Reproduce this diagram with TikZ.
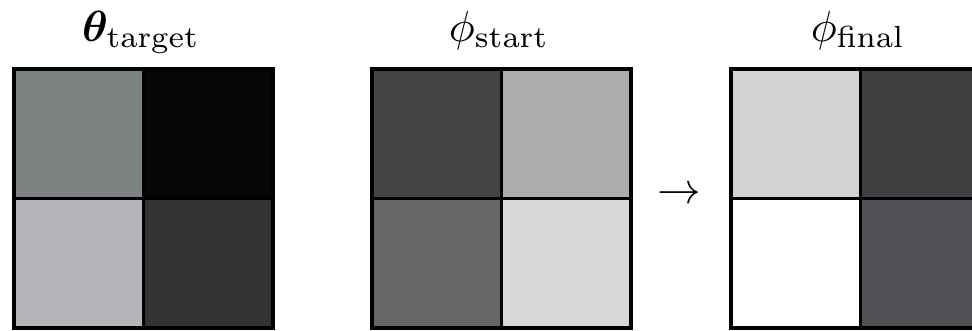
\documentclass[tikz,border=0pt]{standalone}
\usepackage{amsmath,bm}
\begin{document}
\begin{tikzpicture}[x=0.2294pt,y=-0.2294pt,
  cell/.style={draw=black,line width=0.9pt,minimum size=129.5*0.2294pt,inner sep=0pt,anchor=north west},
  title/.style={anchor=base,inner sep=0pt}]
\useasboundingbox (0,0) rectangle (972,330);
\definecolor{aTL}{RGB}{125,130,130}
\definecolor{aTR}{RGB}{6,6,6}
\definecolor{aBL}{RGB}{181,180,187}
\definecolor{aBR}{RGB}{51,51,51}
\definecolor{bTL}{RGB}{68,68,68}
\definecolor{bTR}{RGB}{172,172,172}
\definecolor{bBL}{RGB}{102,102,102}
\definecolor{bBR}{RGB}{216,216,216}
\definecolor{cTL}{RGB}{210,210,210}
\definecolor{cTR}{RGB}{64,64,64}
\definecolor{cBL}{RGB}{255,255,255}
\definecolor{cBR}{RGB}{80,79,85}
% grid 1
\node[cell,fill=aTL] (a11) at (12,67) {};
\node[cell,fill=aTR] (a12) at (141.5,67) {};
\node[cell,fill=aBL] (a21) at (12,196.5) {};
\node[cell,fill=aBR] (a22) at (141.5,196.5) {};
% grid 2
\node[cell,fill=bTL] (b11) at (370,67) {};
\node[cell,fill=bTR] (b12) at (499.5,67) {};
\node[cell,fill=bBL] (b21) at (370,196.5) {};
\node[cell,fill=bBR] (b22) at (499.5,196.5) {};
% grid 3
\node[cell,fill=cTL] (c11) at (729,67) {};
\node[cell,fill=cTR] (c12) at (858.5,67) {};
\node[cell,fill=cBL] (c21) at (729,196.5) {};
\node[cell,fill=cBR] (c22) at (858.5,196.5) {};
% titles
\node[title] (ta) at (141,41) {$\bm{\theta}_{\mathrm{target}}$};
\node[title] (tb) at (499,41) {$\phi_{\mathrm{start}}$};
\node[title] (tc) at (858,41) {$\phi_{\mathrm{final}}$};
% arrow
\node[inner sep=0pt] (arr) at (679,195) {$\rightarrow$};
\end{tikzpicture}
\end{document}
